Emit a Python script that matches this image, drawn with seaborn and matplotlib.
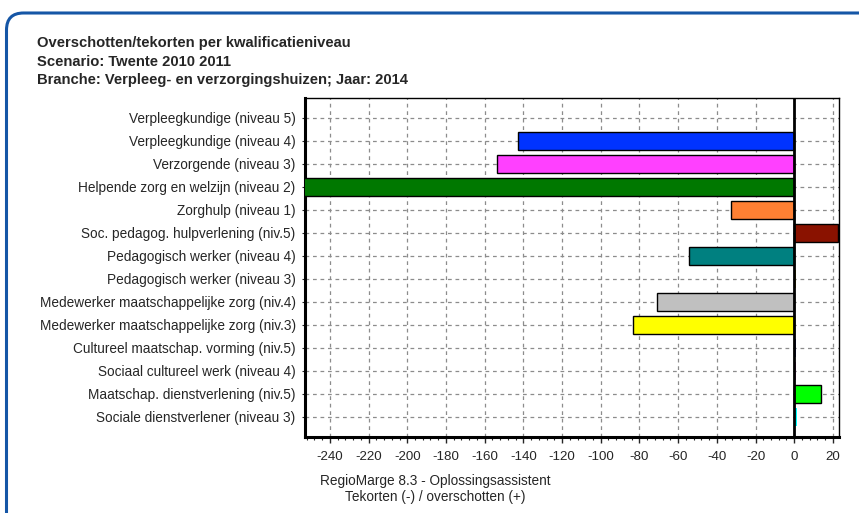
import matplotlib
matplotlib.use("Agg")
import matplotlib.pyplot as plt
from matplotlib.patches import FancyBboxPatch
from matplotlib.ticker import MultipleLocator
import seaborn as sns

# data
categories = [
    "Verpleegkundige (niveau 5)",
    "Verpleegkundige (niveau 4)",
    "Verzorgende (niveau 3)",
    "Helpende zorg en welzijn (niveau 2)",
    "Zorghulp (niveau 1)",
    "Soc. pedagog. hulpverlening (niv.5)",
    "Pedagogisch werker (niveau 4)",
    "Pedagogisch werker (niveau 3)",
    "Medewerker maatschappelijke zorg (niv.4)",
    "Medewerker maatschappelijke zorg (niv.3)",
    "Cultureel maatschap. vorming (niv.5)",
    "Sociaal cultureel werk (niveau 4)",
    "Maatschap. dienstverlening (niv.5)",
    "Sociale dienstverlener (niveau 3)",
]
values = [0, -142.5, -153.5, -260, -32.5, 22.5, -54.5, 1, -71, -83.5, 1, 1, 13.6, 1.5]
colors = ["#000080", "#0033FF", "#FF40FF", "#007800", "#FF8033", "#8A1200", "#008080",
          "#B8A000", "#C0C0C0", "#FFFF00", "#3040C0", "#C040C0", "#00FF00", "#00FFFF"]
title_lines = [
    "Overschotten/tekorten per kwalificatieniveau",
    "Scenario: Twente 2010 2011",
    "Branche: Verpleeg- en verzorgingshuizen; Jaar: 2014",
]
xlabel_lines = ["RegioMarge 8.3 - Oplossingsassistent", "Tekorten (-) / overschotten (+)"]

sns.set_style("white")
plt.rcParams["font.family"] = ["Liberation Sans", "DejaVu Sans"]
plt.rcParams["axes.unicode_minus"] = False

W, H = 859, 513
fig = plt.figure(figsize=(W / 100, H / 100), dpi=100)

# rounded blue frame (runs off the right and bottom edge)
frame = FancyBboxPatch((0.065, -0.5), 10, 5.5, boxstyle="round,pad=0,rounding_size=0.17",
                       transform=fig.dpi_scale_trans, fill=False, edgecolor="#1556A6",
                       linewidth=2.2, zorder=0)
fig.patches.append(frame)

for i, line in enumerate(title_lines):
    fig.text(37 / W, 1 - (43.5 + 18.3 * i) / H, line, fontsize=10.6, fontweight="bold",
             va="center", ha="left")

ax = fig.add_axes([304.7 / W, 1 - 437.3 / H, (838.7 - 304.7) / W, (437.3 - 98) / H])
sns.barplot(x=values, y=categories, hue=categories, palette=colors, legend=False,
            orient="h", width=0.78, saturation=1, edgecolor="black", linewidth=1,
            ax=ax, zorder=3)
for p in ax.patches:
    if abs(p.get_width()) < 2:
        p.set_linewidth(0)

ax.axvline(0, color="black", linewidth=2, zorder=4)
ax.set_xlim(-253, 23)
ax.set_ylim(13.9, -0.87)
ax.xaxis.set_major_locator(MultipleLocator(20))
ax.xaxis.set_minor_locator(MultipleLocator(4))
ax.grid(True, which="major", color="#8c8c8c", linestyle=(0, (3, 3)), linewidth=0.9, zorder=0)
ax.set_axisbelow(True)
ax.tick_params(axis="x", which="major", bottom=True, length=4, width=1, pad=6, labelsize=9.6)
ax.tick_params(axis="x", which="minor", bottom=True, length=2.5, width=0.8)
ax.tick_params(axis="y", left=True, length=2.5, width=0.8, pad=4, labelsize=9.8)
ax.set_xlabel("")
ax.set_ylabel("")
for side in ["left", "bottom"]:
    ax.spines[side].set_linewidth(2.2)
for side in ["top", "right"]:
    ax.spines[side].set_linewidth(1)
for s in ax.spines.values():
    s.set_color("black")
    s.set_visible(True)

for i, line in enumerate(xlabel_lines):
    fig.text(435.5 / W, 1 - (481 + 16.5 * i) / H, line, fontsize=9.8, ha="center", va="center")

fig.savefig("out.png", dpi=100)
